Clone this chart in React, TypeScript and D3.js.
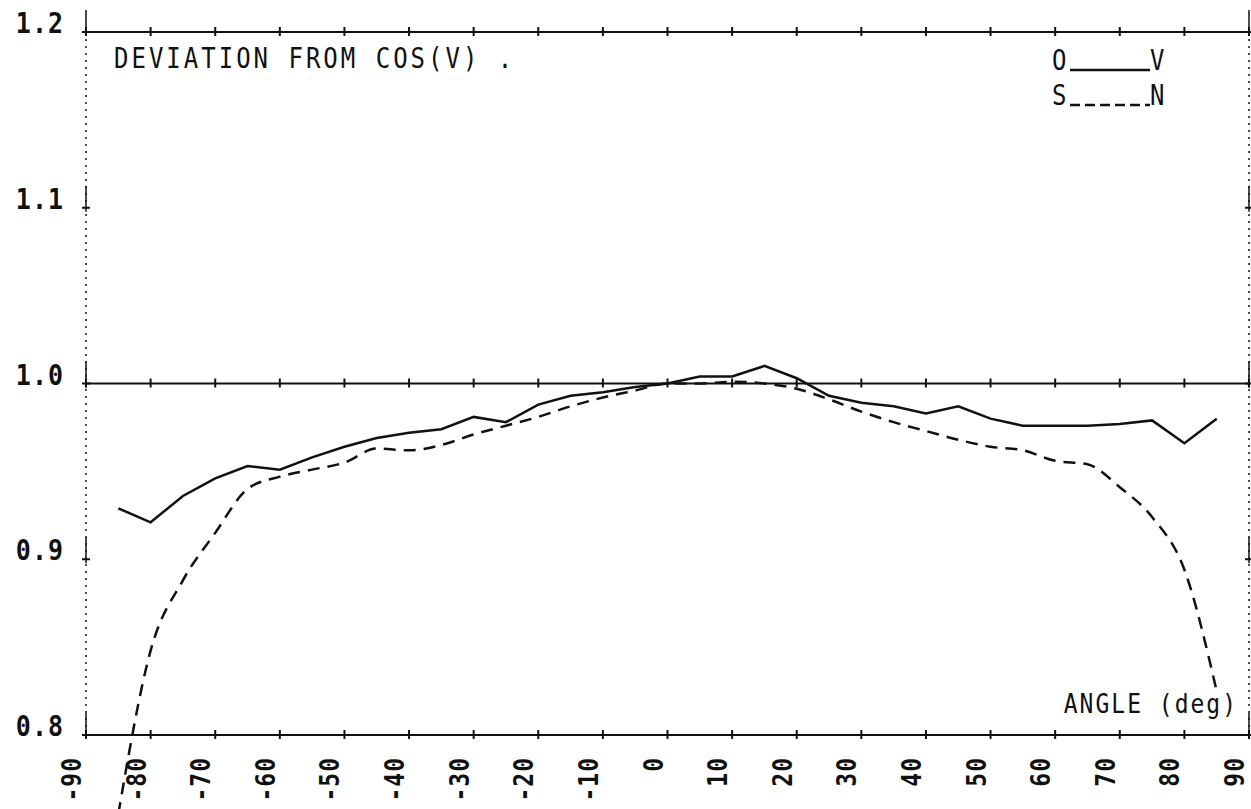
import React, { useEffect, useRef } from 'react';
import * as d3 from 'd3';

const angles = [-85, -80, -75, -70, -65, -60, -55, -50, -45, -40, -35, -30, -25, -20, -15, -10, -5, 0,
  5, 10, 15, 20, 25, 30, 35, 40, 45, 50, 55, 60, 65, 70, 75, 80, 85];

// O____V (solid)
const ovValues = [0.929, 0.921, 0.936, 0.946, 0.953, 0.951, 0.958, 0.964, 0.969, 0.972, 0.974, 0.981, 0.978, 0.988,
  0.993, 0.995, 0.998, 1.0, 1.004, 1.004, 1.010, 1.003, 0.993, 0.989, 0.987, 0.983, 0.987, 0.980, 0.976,
  0.976, 0.976, 0.977, 0.979, 0.966, 0.980];

// S----N (dashed)
const snValues = [0.755, 0.848, 0.888, 0.915, 0.940, 0.947, 0.951, 0.955, 0.963, 0.962, 0.965, 0.971, 0.976, 0.981,
  0.987, 0.992, 0.996, 1.0, 1.0, 1.001, 1.0, 0.997, 0.991, 0.984, 0.978, 0.973, 0.968, 0.964, 0.962,
  0.956, 0.954, 0.941, 0.924, 0.894, 0.825];

const xTicks = [-90, -80, -70, -60, -50, -40, -30, -20, -10, 0, 10, 20, 30, 40, 50, 60, 70, 80, 90];
const yTicks = [0.8, 0.9, 1.0, 1.1, 1.2];
const yTickLabels = ['0.8', '0.9', '1.0', '1.1', '1.2'];

const App = () => {
  const ref = useRef<SVGSVGElement>(null);

  useEffect(() => {
    const width = 1251;
    const height = 809;
    const ink = '#111';
    const font = '"DejaVu Sans Mono", "Liberation Mono", monospace';

    const svg = d3.select(ref.current);
    svg.selectAll('*').remove();
    svg.attr('width', width).attr('height', height);

    const x = d3.scaleLinear().domain([-90, 90]).range([86, 1249]);
    const y = d3.scaleLinear().domain([0.8, 1.2]).range([735, 32]);

    const g = svg.append('g');

    // plotter style text, a bit taller than the font
    const label = (tx: number, ty: number, s: string, size: number, spacing: number, anchor = 'start', bold = false) =>
      g.append('text')
        .attr('transform', `translate(${tx},${ty}) scale(1,1.15)`)
        .attr('text-anchor', anchor)
        .attr('font-family', font).attr('font-size', size)
        .attr('font-weight', bold ? 'bold' : 'normal')
        .attr('letter-spacing', spacing)
        .attr('fill', ink)
        .text(s);

    // frame: solid top / 1.0 / bottom, dotted sides
    [1.2, 1.0, 0.8].forEach((v) => {
      g.append('line')
        .attr('x1', x(-90)).attr('x2', x(90))
        .attr('y1', y(v)).attr('y2', y(v))
        .attr('stroke', ink).attr('stroke-width', 2);
      xTicks.forEach((t) => {
        g.append('line')
          .attr('x1', x(t)).attr('x2', x(t))
          .attr('y1', y(v) - 5).attr('y2', y(v) + 4)
          .attr('stroke', ink).attr('stroke-width', 2);
      });
    });
    [-90, 90].forEach((t) => {
      g.append('line')
        .attr('x1', x(t)).attr('x2', x(t))
        .attr('y1', y(1.2)).attr('y2', y(0.8))
        .attr('stroke', ink).attr('stroke-width', 1.5)
        .attr('stroke-dasharray', '2 5');
      yTicks.forEach((v) => {
        g.append('line')
          .attr('x1', x(t)).attr('x2', x(t))
          .attr('y1', y(v) - 22).attr('y2', y(v) + 4)
          .attr('stroke', ink).attr('stroke-width', 1.5);
        g.append('line')
          .attr('x1', x(t) - 4).attr('x2', x(t) + 4)
          .attr('y1', y(v)).attr('y2', y(v))
          .attr('stroke', ink).attr('stroke-width', 2);
      });
    });

    // y labels
    yTicks.forEach((v, i) => {
      label(64, y(v) + 1, yTickLabels[i], 25, 1, 'end', true);
    });

    // x labels (rotated, reading upwards)
    xTicks.forEach((t) => {
      g.append('text')
        .attr('transform', `translate(${x(t) - 5},757) rotate(-90) scale(1,1.15)`)
        .attr('text-anchor', 'end')
        .attr('font-family', font).attr('font-size', 23).attr('font-weight', 'bold')
        .attr('letter-spacing', 1)
        .attr('fill', ink)
        .text(String(t));
    });

    const line = d3.line<number>()
      .x((d, i) => x(angles[i]))
      .y((d) => y(d));

    g.append('path')
      .attr('d', line(ovValues))
      .attr('fill', 'none').attr('stroke', ink).attr('stroke-width', 2.5);

    g.append('path')
      .attr('d', line.curve(d3.curveMonotoneX)(snValues))
      .attr('fill', 'none').attr('stroke', ink).attr('stroke-width', 2.5)
      .attr('stroke-dasharray', '12 8');

    // title
    label(114, 68, 'DEVIATION FROM COS(V)  .', 24, 3);

    // legend
    const legend = [
      { a: 'O', b: 'V', dash: null, yy: 70 },
      { a: 'S', b: 'N', dash: '10 5', yy: 105 },
    ];
    legend.forEach((l) => {
      label(1052, l.yy, l.a, 24, 0);
      label(1150, l.yy, l.b, 24, 0);
      g.append('line')
        .attr('x1', 1070).attr('x2', 1150)
        .attr('y1', l.yy).attr('y2', l.yy)
        .attr('stroke', ink).attr('stroke-width', 2.5)
        .attr('stroke-dasharray', l.dash);
    });

    label(1238, 713, 'ANGLE (deg)', 23, 2, 'end');
  }, []);

  return (
    <svg ref={ref} style={{ position: 'absolute', left: 0, top: 0, background: '#fff' }} />
  );
};

export default App;
